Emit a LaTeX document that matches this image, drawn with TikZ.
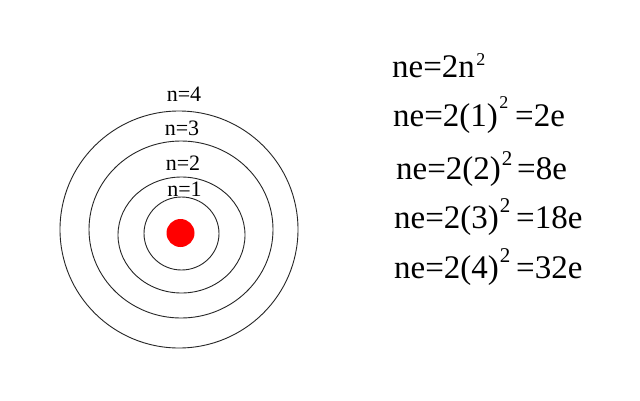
\documentclass[tikz,border=0pt]{standalone}
\usepackage{fontspec}
\setmainfont{Liberation Serif}
\begin{document}
\begin{tikzpicture}[x=1pt,y=-1pt,
  orbit/.style={draw=black!85, line width=0.9pt},
  lbl/.style={font=\fontsize{22}{22}\selectfont, inner sep=0pt, anchor=base},
  eq/.style={font=\fontsize{33}{33}\selectfont, inner sep=0pt, anchor=base west},
  sup/.style={font=\fontsize{18}{18}\selectfont, inner sep=0pt, anchor=base west},
  bigsup/.style={font=\fontsize{21}{21}\selectfont, inner sep=0pt, anchor=base west}]
\useasboundingbox (0,0) rectangle (640,400);
\fill[white] (0,0) rectangle (640,400);
% orbits
\draw[orbit] (179,229.5) ellipse [x radius=119, y radius=118.5];
\draw[orbit] (181,229.5) ellipse [x radius=92, y radius=88.5];
\draw[orbit] (181.5,235) ellipse [x radius=63.5, y radius=58];
\draw[orbit] (181.5,233.5) ellipse [x radius=37.5, y radius=36.5];
\fill[red] (180.5,233) circle [radius=14];
% labels
\node[lbl] (l4) at (184,101.7) {n=4};
\node[lbl] (l3) at (182,135) {n=3};
\node[lbl] (l2) at (183,170) {n=2};
\node[lbl] (l1) at (184.5,196.7) {n=1};
% equations
\node[eq] (e0) at (392,77) {ne=2n};
\node[sup, xshift=1pt, yshift=12pt] (s0) at (e0.base east) {2};
\node[eq] (e1) at (393,126) {ne=2(1)};
\node[sup, xshift=1pt, yshift=18pt] (s1) at (e1.base east) {2};
\node[eq] (r1) at (515,126) {=2e};
\node[eq] (e2) at (396,179) {ne=2(2)};
\node[bigsup, xshift=0.5pt, yshift=14pt] (s2) at (e2.base east) {2};
\node[eq] (r2) at (517,179) {=8e};
\node[eq] (e3) at (394,228) {ne=2(3)};
\node[bigsup, xshift=0.5pt, yshift=16pt] (s3) at (e3.base east) {2};
\node[eq] (r3) at (516,228) {=18e};
\node[eq] (e4) at (394,278) {ne=2(4)};
\node[bigsup, xshift=0.5pt, yshift=16pt] (s4) at (e4.base east) {2};
\node[eq] (r4) at (516,278) {=32e};
\end{tikzpicture}
\end{document}
